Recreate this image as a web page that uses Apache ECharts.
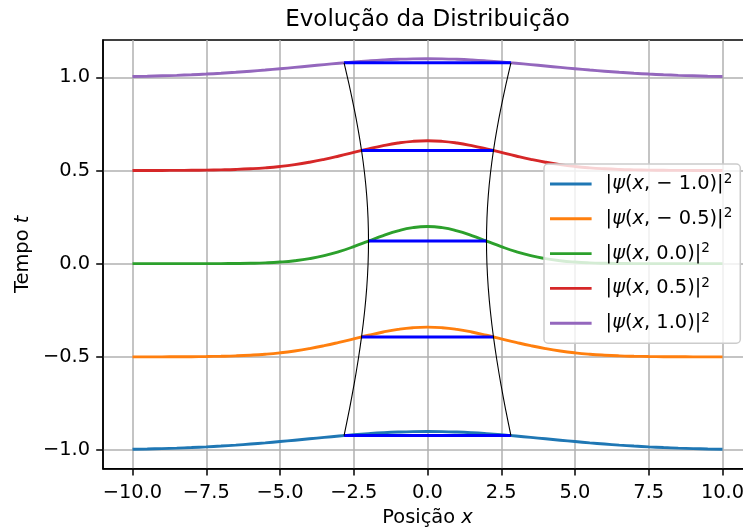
<!DOCTYPE html>
<html>
<head>
<meta charset="utf-8">
<script src="https://cdn.jsdelivr.net/npm/echarts@6/dist/echarts.min.js"></script>
<style>
  html, body { margin: 0; padding: 0; background: #ffffff; }
  #chart { width: 743px; height: 529px; }
</style>
</head>
<body>
<div id="chart"></div>
<script>
// Sample positions along x
const xs = [-10, -9.5, -9, -8.5, -8, -7.5, -7, -6.5, -6, -5.5, -5, -4.5, -4, -3.5, -3, -2.5, -2, -1.5, -1, -0.5,
            0, 0.5, 1, 1.5, 2, 2.5, 3, 3.5, 4, 4.5, 5, 5.5, 6, 6.5, 7, 7.5, 8, 8.5, 9, 9.5, 10];

// Curve heights (time offset t plus probability density) at each sample
const curveTm10 = [-0.9956, -0.9941, -0.9921, -0.9896, -0.9865, -0.9828, -0.9784, -0.9734, -0.9676, -0.9612, -0.9543,
  -0.9470, -0.9395, -0.9320, -0.9247, -0.9180, -0.9120, -0.9070, -0.9033, -0.9010, -0.9003,
  -0.9010, -0.9033, -0.9070, -0.9120, -0.9180, -0.9247, -0.9320, -0.9395, -0.9470, -0.9543,
  -0.9612, -0.9676, -0.9734, -0.9784, -0.9828, -0.9865, -0.9896, -0.9921, -0.9941, -0.9956];
const curveTm05 = [-0.4999, -0.4999, -0.4998, -0.4995, -0.4990, -0.4982, -0.4968, -0.4946, -0.4910, -0.4858, -0.4784,
  -0.4684, -0.4556, -0.4401, -0.4223, -0.4032, -0.3841, -0.3667, -0.3527, -0.3436, -0.3404,
  -0.3436, -0.3527, -0.3667, -0.3841, -0.4032, -0.4223, -0.4401, -0.4556, -0.4684, -0.4784,
  -0.4858, -0.4910, -0.4946, -0.4968, -0.4982, -0.4990, -0.4995, -0.4998, -0.4999, -0.4999];
const curveT00 = [0, 0, 0, 0, 0.0001, 0.0002, 0.0004, 0.0010, 0.0022, 0.0045, 0.0088,
  0.0159, 0.0270, 0.0431, 0.0648, 0.0913, 0.1210, 0.1506, 0.1760, 0.1933, 0.1995,
  0.1933, 0.1760, 0.1506, 0.1210, 0.0913, 0.0648, 0.0431, 0.0270, 0.0159, 0.0088,
  0.0045, 0.0022, 0.0010, 0.0004, 0.0002, 0.0001, 0, 0, 0, 0];
const curveT05 = [0.5001, 0.5001, 0.5002, 0.5005, 0.5010, 0.5018, 0.5032, 0.5054, 0.5090, 0.5142, 0.5216,
  0.5316, 0.5444, 0.5599, 0.5777, 0.5968, 0.6159, 0.6333, 0.6473, 0.6564, 0.6596,
  0.6564, 0.6473, 0.6333, 0.6159, 0.5968, 0.5777, 0.5599, 0.5444, 0.5316, 0.5216,
  0.5142, 0.5090, 0.5054, 0.5032, 0.5018, 0.5010, 0.5005, 0.5002, 0.5001, 0.5001];
const curveT10 = [1.0044, 1.0059, 1.0079, 1.0104, 1.0135, 1.0172, 1.0216, 1.0266, 1.0324, 1.0388, 1.0457,
  1.0530, 1.0605, 1.0680, 1.0753, 1.0820, 1.0880, 1.0930, 1.0967, 1.0990, 1.0997,
  1.0990, 1.0967, 1.0930, 1.0880, 1.0820, 1.0753, 1.0680, 1.0605, 1.0530, 1.0457,
  1.0388, 1.0324, 1.0266, 1.0216, 1.0172, 1.0135, 1.0104, 1.0079, 1.0059, 1.0044];

const timeLabels = ['\u22121.0', '\u22120.5', '0.0', '0.5', '1.0'];
const curves = [curveTm10, curveTm05, curveT00, curveT05, curveT10];
const curveColors = ['#1f77b4', '#ff7f0e', '#2ca02c', '#d62728', '#9467bd'];

// Width markers: half-width sigma(t) and the height where each marker sits
const markerHalfWidth = [2.83, 2.24, 2.00, 2.24, 2.83];
const markerLevel = [-0.9223, -0.3930, 0.1210, 0.6070, 1.0777];

// Envelope traced by the width markers over time
const envHalfWidth = [2.8284, 2.6575, 2.5, 2.3585, 2.2361, 2.1360, 2.0616, 2.0156, 2.0,
  2.0156, 2.0616, 2.1360, 2.2361, 2.3585, 2.5, 2.6575, 2.8284];
const envLevel = [-0.9223, -0.7899, -0.6573, -0.5249, -0.3930, -0.2622, -0.1327, -0.0050, 0.1210,
  0.2450, 0.3673, 0.4878, 0.6070, 0.7251, 0.8427, 0.9601, 1.0777];

// Axis ticks
const xTicks = [-10, -7.5, -5, -2.5, 0, 2.5, 5, 7.5, 10];
const yTicks = [-1.0, -0.5, 0.0, 0.5, 1.0];

const FONT = 'DejaVu Sans';
const fmtTick = v => (v < 0 ? '\u2212' : '') + Math.abs(v).toFixed(1);
const seriesNames = timeLabels.map(t => '|\u03c8(x, ' + t + ')|\u00b2');
const richName = i => {
  const t = timeLabels[i];
  const inner = t.startsWith('\u2212') ? '\u2212 ' + t.slice(1) : t;
  return '|{i|\u03c8}({i|x}, ' + inner + ')|{s|2}';
};

const series = [];
curves.forEach((c, i) => {
  series.push({
    name: seriesNames[i],
    type: 'line',
    data: xs.map((x, k) => [x, c[k]]),
    smooth: true,
    symbol: 'none',
    color: curveColors[i],
    lineStyle: { color: curveColors[i], width: 2.9 },
    z: 2
  });
});
markerHalfWidth.forEach((w, i) => {
  series.push({
    type: 'line',
    data: [[-w, markerLevel[i]], [w, markerLevel[i]]],
    symbol: 'none',
    lineStyle: { color: '#0000ff', width: 3 },
    z: 3
  });
});
[-1, 1].forEach(side => {
  series.push({
    type: 'line',
    data: envHalfWidth.map((w, k) => [side * w, envLevel[k]]),
    smooth: true,
    symbol: 'none',
    lineStyle: { color: '#000000', width: 1.1 },
    z: 4
  });
});

const chart = echarts.init(document.getElementById('chart'), null, { renderer: 'canvas' });
chart.setOption({
  animation: false,
  backgroundColor: '#ffffff',
  title: {
    text: 'Evolução da Distribuição',
    left: 427.5,
    top: 9,
    padding: 0,
    textAlign: 'center',
    textStyle: { fontFamily: FONT, fontSize: 23, fontWeight: 'normal', color: '#000000' }
  },
  grid: {
    left: 103, top: 40, width: 649, height: 428.7,
    containLabel: false,
    outerBoundsMode: 'none',
    show: true,
    backgroundColor: 'transparent',
    borderColor: '#000000',
    borderWidth: 1.5
  },
  xAxis: {
    type: 'value', min: -11, max: 11,
    axisLine: { show: true, onZero: false, lineStyle: { color: '#000000', width: 1.5 } },
    axisTick: { show: true, length: 6.8, customValues: xTicks, lineStyle: { color: '#000000', width: 1.5 } },
    axisLabel: { customValues: xTicks, formatter: fmtTick, margin: 15, fontFamily: FONT, fontSize: 19.4, color: '#000000' },
    splitLine: { show: true, lineStyle: { color: '#b0b0b0', width: 1.5 } },
    name: 'Posição {i|x}',
    nameLocation: 'middle',
    nameGap: 40,
    nameTextStyle: {
      fontFamily: FONT, fontSize: 19.4, color: '#000000',
      rich: { i: { fontFamily: FONT, fontSize: 19.4, fontStyle: 'italic', color: '#000000' } }
    }
  },
  yAxis: {
    type: 'value', min: -1.1, max: 1.2,
    axisLine: { show: true, onZero: false, lineStyle: { color: '#000000', width: 1.5 } },
    axisTick: { show: true, length: 6.8, customValues: yTicks, lineStyle: { color: '#000000', width: 1.5 } },
    axisLabel: { customValues: yTicks, formatter: fmtTick, margin: 13, fontFamily: FONT, fontSize: 19.4, color: '#000000' },
    splitLine: { show: true, lineStyle: { color: '#b0b0b0', width: 1.5 } },
    name: 'Tempo {i|t}',
    nameLocation: 'middle',
    nameGap: 70,
    nameTextStyle: {
      fontFamily: FONT, fontSize: 19.4, color: '#000000',
      rich: { i: { fontFamily: FONT, fontSize: 19.4, fontStyle: 'italic', color: '#000000' } }
    }
  },
  legend: {
    data: seriesNames,
    orient: 'vertical',
    left: 544,
    top: 164,
    padding: [8, 8, 8, 6],
    itemGap: 10.8,
    itemWidth: 41.6,
    itemHeight: 2.9,
    icon: 'rect',
    backgroundColor: 'rgba(255,255,255,0.8)',
    borderColor: '#cccccc',
    borderWidth: 1.5,
    borderRadius: 4,
    selectedMode: false,
    formatter: name => richName(seriesNames.indexOf(name)),
    textStyle: {
      fontFamily: FONT, fontSize: 19.4, color: '#000000', lineHeight: 24, padding: [0, 0, 0, 9],
      rich: {
        i: { fontFamily: FONT, fontSize: 19.4, fontStyle: 'italic', color: '#000000', lineHeight: 24 },
        s: { fontFamily: FONT, fontSize: 13.6, color: '#000000', lineHeight: 14, verticalAlign: 'top' }
      }
    }
  },
  series: series
});
</script>
</body>
</html>
